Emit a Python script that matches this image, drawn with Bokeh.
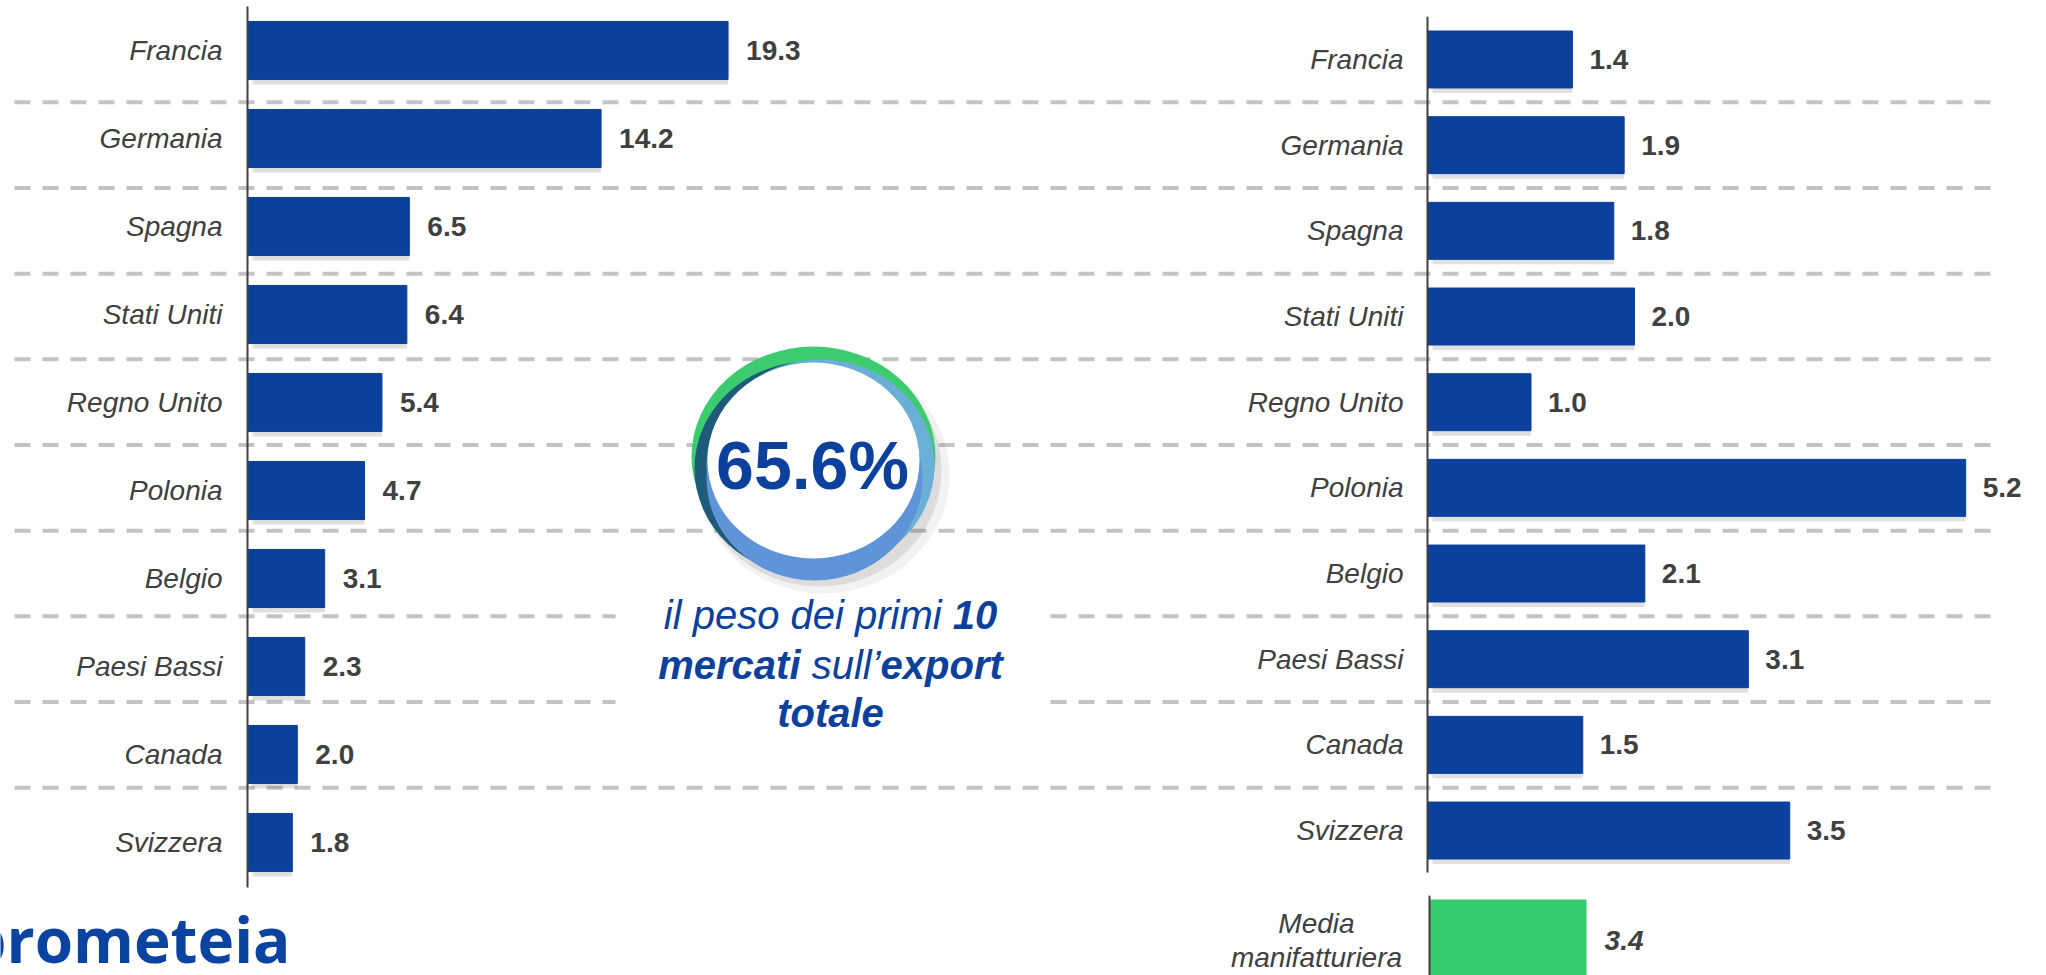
from bokeh.plotting import figure
from bokeh.models import Range1d, ColumnDataSource
from bokeh.embed import file_html
from bokeh.resources import INLINE
from bokeh.core.properties import value

# ---------------- data ----------------
countries = ["Francia", "Germania", "Spagna", "Stati Uniti", "Regno Unito",
             "Polonia", "Belgio", "Paesi Bassi", "Canada", "Svizzera"]
share = [19.3, 14.2, 6.5, 6.4, 5.4, 4.7, 3.1, 2.3, 2.0, 1.8]
growth = [1.4, 1.9, 1.8, 2.0, 1.0, 5.2, 2.1, 3.1, 1.5, 3.5]
media_label = ["Media", "manifatturiera"]
media_value = [3.4]
total_share = "65.6%"
logo = "prometeia"

# ---------------- styling ----------------
BLUE = "#0B409C"
GREEN = "#36CB6F"
TXT = "#404040"
DARKBLUE = "#0B409C"
FONT = "Liberation Sans"
W, H = 2046, 975

L_X = Range1d(-247 / 24.9, (W - 247) / 24.9)
L_Y = Range1d((H - 50) / 88.0, -50 / 88.0)
R_X = Range1d(-1427 / 103.5, (W - 1427) / 103.5)
R_Y = Range1d((H - 59) / 85.67, -59 / 85.67)
M_X = Range1d(-1429 / 46.2, (W - 1429) / 46.2)


def dx(rng, fx):
    return rng.start + fx / W * (rng.end - rng.start)


def dy(rng, fy):
    return rng.end + fy / H * (rng.start - rng.end)


p = figure(width=W, height=H, x_range=L_X, y_range=L_Y,
           output_backend="svg", toolbar_location=None,
           x_axis_location=None, y_axis_location=None, min_border=0)
p.extra_x_ranges = {"r": R_X, "m": M_X}
p.extra_y_ranges = {"r": R_Y}
p.grid.visible = False
p.outline_line_color = None
p.background_fill_color = "white"
p.border_fill_color = "white"

idx = list(range(len(countries)))

# dashed separators (shared across both panels)
sep = ColumnDataSource(dict(y=[i + 0.5 for i in idx[:-1]]))
p.segment(x0=dx(R_X, 14), x1=dx(R_X, 1990), y0="y", y1="y", source=sep,
          x_range_name="r", y_range_name="r",
          line_color="#C3C3C3", line_width=4, line_dash="16 12")

# ---------------- left panel ----------------
lsrc = ColumnDataSource(dict(y=idx, v=share, c=countries,
                             lab=[f"{v:.1f}" for v in share],
                             ys=[i + 5 / 88 for i in idx]))
p.hbar(y="ys", height=0.66, left=5 / 24.9, right="v", source=lsrc,
       fill_color="#000000", fill_alpha=0.12, line_color=None)
p.hbar(y="y", height=0.66, left=0, right="v", source=lsrc,
       fill_color=BLUE, line_color=BLUE)
p.segment(x0=0, x1=0, y0=-0.5, y1=9.51, line_color=TXT, line_width=2)
p.text(x=0, y="y", text="c", source=lsrc, x_offset=-25,
       text_align="right", text_baseline="middle",
       text_font=value(FONT), text_font_style="italic",
       text_font_size="28px", text_color=TXT)
p.text(x="v", y="y", text="lab", source=lsrc, x_offset=18,
       text_align="left", text_baseline="middle",
       text_font=value(FONT), text_font_style="bold",
       text_font_size="28px", text_color=TXT)

# ---------------- right panel ----------------
rsrc = ColumnDataSource(dict(y=idx, v=growth, c=countries,
                             lab=[f"{v:.1f}" for v in growth],
                             ys=[i + 5 / 85.67 for i in idx]))
p.hbar(y="ys", height=0.665, left=5 / 103.5, right="v", source=rsrc,
       x_range_name="r", y_range_name="r",
       fill_color="#000000", fill_alpha=0.12, line_color=None)
p.hbar(y="y", height=0.665, left=0, right="v", source=rsrc,
       x_range_name="r", y_range_name="r",
       fill_color=BLUE, line_color=BLUE)
p.segment(x0=0, x1=0, y0=-0.5, y1=9.49, x_range_name="r", y_range_name="r",
          line_color=TXT, line_width=2)
p.text(x=0, y="y", text="c", source=rsrc, x_offset=-24,
       x_range_name="r", y_range_name="r",
       text_align="right", text_baseline="middle",
       text_font=value(FONT), text_font_style="italic",
       text_font_size="28px", text_color=TXT)
p.text(x="v", y="y", text="lab", source=rsrc, x_offset=17,
       x_range_name="r", y_range_name="r",
       text_align="left", text_baseline="middle",
       text_font=value(FONT), text_font_style="bold",
       text_font_size="28px", text_color=TXT)

# media manifatturiera
msrc = ColumnDataSource(dict(y=[10.28], v=media_value,
                             lab=[f"{v:.1f}" for v in media_value]))
p.hbar(y="y", height=0.95, left=0, right="v", source=msrc,
       x_range_name="m", y_range_name="r", fill_color=GREEN, line_color=None)
p.segment(x0=0, x1=0, y0=9.76, y1=10.9, x_range_name="m", y_range_name="r",
          line_color=TXT, line_width=2)
p.text(x="v", y="y", text="lab", source=msrc, x_offset=18,
       x_range_name="m", y_range_name="r",
       text_align="left", text_baseline="middle",
       text_font=value(FONT), text_font_style="bold italic",
       text_font_size="28px", text_color=TXT)
p.text(x=0, y=[10.085, 10.48], text=media_label, x_offset=-113,
       x_range_name="m", y_range_name="r",
       text_align="center", text_baseline="middle",
       text_font=value(FONT), text_font_style="italic",
       text_font_size="28px", text_color=TXT)

# ---------------- central badge ----------------
def ell(fx, fy, w, h, color, alpha=1.0):
    p.ellipse(x=[dx(L_X, fx)], y=[dy(L_Y, fy)], width=w, height=h,
              width_units="screen", height_units="screen",
              fill_color=color, fill_alpha=alpha, line_color=None)

ell(823, 474, 252, 238, "#000000", 0.05)
ell(819, 470, 244, 232, "#000000", 0.09)
ell(813, 456, 244, 220, "#3CCB6E")
ell(809, 468, 230, 214, "#1E5B78")
ell(820, 465, 228, 212, "#6AAFD6")
ell(814, 478, 216, 204, "#5F95D8")
ell(813, 460, 212, 196, "#FFFFFF")

p.text(x=[dx(L_X, 812)], y=[dy(L_Y, 464)], text=[total_share],
       text_align="center", text_baseline="middle",
       text_font=value(FONT), text_font_style="bold",
       text_font_size="68px", text_color=DARKBLUE)

# white box behind caption
p.rect(x=[dx(L_X, 830)], y=[dy(L_Y, 662)], width=430, height=130,
       width_units="screen", height_units="screen",
       fill_color="white", line_color=None)

REG = {" ": 278, "i": 222, "l": 222, "p": 556, "e": 556, "s": 500, "o": 556,
       "d": 556, "r": 333, "m": 833, "u": 556, "’": 222}
BOLD = {"1": 556, "0": 556, "m": 889, "e": 556, "r": 389, "c": 556, "a": 556,
        "t": 333, "i": 278, "x": 556, "p": 611, "o": 611, "l": 278, " ": 278}
CAP_SIZE = 40


def tw(s, bold):
    tab = BOLD if bold else REG
    return sum(tab.get(ch, 556) for ch in s) / 1000 * CAP_SIZE


caption = [
    [("il peso dei primi ", False), ("10", True)],
    [("mercati", True), (" sull’", False), ("export", True)],
    [("totale", True)],
]
cap_mid = [614, 664, 712]
cx = 830
for line, fy in zip(caption, cap_mid):
    total = sum(tw(s, b) for s, b in line)
    off = -total / 2
    for s, b in line:
        txt = s.strip()
        lead = tw(s[:len(s) - len(s.lstrip())], b)
        p.text(x=[dx(L_X, cx)], y=[dy(L_Y, fy)], text=[txt],
               x_offset=off + lead, text_align="left",
               text_baseline="middle", text_font=value(FONT),
               text_font_style="bold italic" if b else "italic",
               text_font_size=f"{CAP_SIZE}px", text_color=DARKBLUE)
        off += tw(s, b)

# logo
p.text(x=[dx(L_X, 290)], y=[dy(L_Y, 938)], text=[logo],
       text_align="right", text_baseline="middle",
       text_font=value("Open Sans"), text_font_style="bold",
       text_font_size="62px", text_color="#0B44A0")

open("out.html", "w").write(file_html(p, INLINE))
